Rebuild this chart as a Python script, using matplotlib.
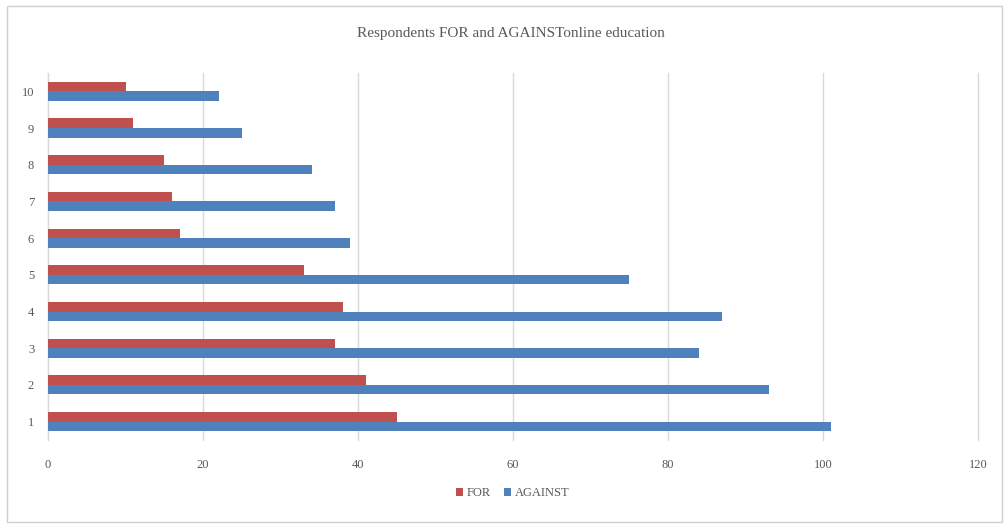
import matplotlib.pyplot as plt
import numpy as np
from matplotlib.patches import Rectangle

# respondents per question
questions = ['1', '2', '3', '4', '5', '6', '7', '8', '9', '10']
votes_for = [45, 41, 37, 38, 33, 17, 16, 15, 11, 10]
votes_against = [101, 93, 84, 87, 75, 39, 37, 34, 25, 22]
x_ticks = [0, 20, 40, 60, 80, 100, 120]

red = '#C0504D'
blue = '#4F81BD'
text_gray = '#595959'
grid_gray = '#D9D9D9'

plt.rcParams['font.family'] = ['Liberation Serif', 'DejaVu Serif']

fig = plt.figure(figsize=(10.05, 5.25), dpi=100)
ax = fig.add_axes([0.0478, 0.162, 0.9254, 0.699])

y = np.arange(1, len(questions) + 1)
h = 0.26
ax.barh(y + h / 2, votes_for, height=h, color=red, label='FOR', zorder=3)
ax.barh(y - h / 2, votes_against, height=h, color=blue, label='AGAINST', zorder=3)

ax.set_xlim(0, 120)
ax.set_ylim(0.5, 10.5)
ax.set_xticks(x_ticks)
ax.set_yticks(y)
ax.set_yticklabels(questions)
ax.tick_params(axis='both', length=0, colors=text_gray, labelsize=9)
ax.tick_params(axis='x', pad=14)
ax.tick_params(axis='y', pad=10)
ax.xaxis.grid(True, color=grid_gray, linewidth=1, zorder=0)
for line in ax.get_xgridlines():
    line.set_clip_on(False)  # keep the 120 line at full width
for side in ['top', 'right', 'bottom']:
    ax.spines[side].set_visible(False)
ax.spines['left'].set_color(grid_gray)

fig.text(0.508, 0.937, 'Respondents FOR and AGAINSTonline education',
         ha='center', va='center', fontsize=11, color=text_gray)

fig.legend(loc='center', bbox_to_anchor=(0.51, 0.06), ncol=2, frameon=False,
           fontsize=9, handlelength=0.6, handleheight=0.6, handletextpad=0.3,
           columnspacing=1.0, labelcolor=text_gray)

# thin frame round the whole chart
fig.patches.append(Rectangle((0.007, 0.006), 0.99, 0.982, transform=fig.transFigure,
                             fill=False, edgecolor='#D0D0D0', linewidth=1))

fig.savefig('out.png', dpi=100)
